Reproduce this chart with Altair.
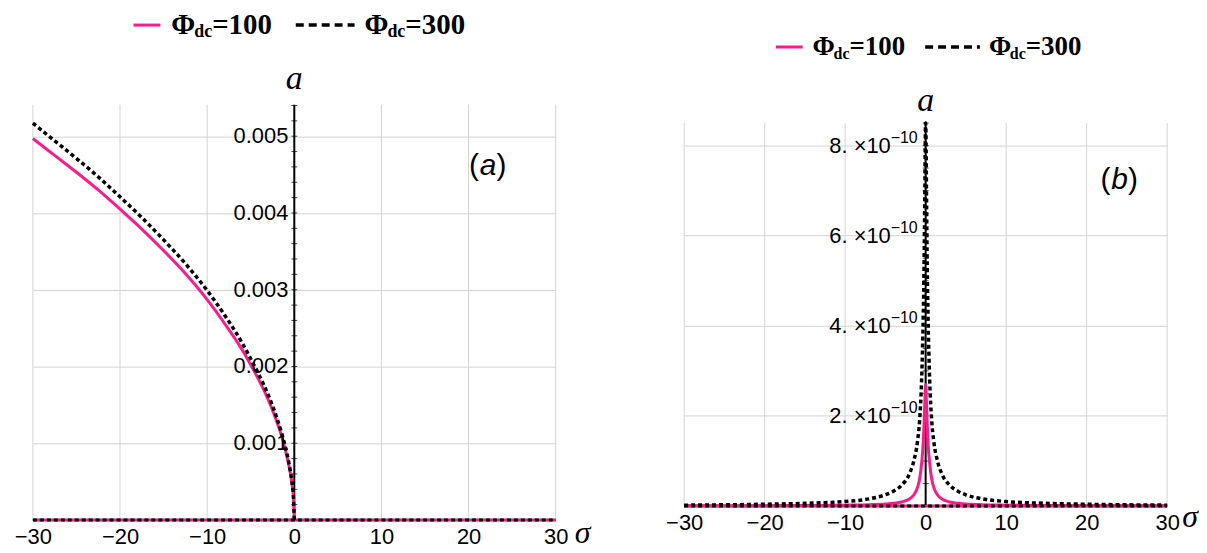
import altair as alt
import pandas as pd

# ---------------- data ----------------
SIGMA_A = [-30, -27.5, -25, -22.5, -20, -17.5, -15, -12.5, -10, -8, -6, -5, -4, -3,
           -2, -1.5, -1, -0.6, -0.3, -0.1, 0]
A_PHI100 = [0.00497, 0.00475, 0.00453, 0.00430, 0.00405, 0.00379, 0.00351, 0.00321,
            0.00287, 0.00256, 0.00222, 0.00202, 0.00181, 0.00157, 0.00128, 0.00111,
            0.00090, 0.00070, 0.00050, 0.00029, 0.0]
A_PHI300 = [0.00517, 0.00494, 0.00471, 0.00447, 0.00421, 0.00394, 0.00365, 0.00334,
            0.00299, 0.00267, 0.00231, 0.00210, 0.00188, 0.00163, 0.00133, 0.00115,
            0.00094, 0.00073, 0.00052, 0.00030, 0.0]
ZERO_SIGMA = [-30, 0, 30]
ZERO_A = [0.0, 0.0, 0.0]

SIGMA_B = [-30, -20, -15, -10, -7, -5, -4, -3, -2, -1.5, -1, -0.75, -0.5, -0.3, -0.2,
           -0.1, -0.05, 0, 0.05, 0.1, 0.2, 0.3, 0.5, 0.75, 1, 1.5, 2, 3, 4, 5, 7, 10,
           15, 20, 30]
# amplitudes in units of 1e-10
B_PHI100_E10 = [0.005, 0.008, 0.012, 0.02, 0.03, 0.045, 0.06, 0.09, 0.16, 0.24, 0.42,
                0.6, 0.95, 1.4, 1.8, 2.3, 2.55, 2.7, 2.55, 2.3, 1.8, 1.4, 0.95, 0.6,
                0.42, 0.24, 0.16, 0.09, 0.06, 0.045, 0.03, 0.02, 0.012, 0.008, 0.005]
B_PHI300_E10 = [0.02, 0.04, 0.06, 0.1, 0.16, 0.25, 0.33, 0.46, 0.72, 0.98, 1.45, 1.9,
                2.8, 4.2, 5.3, 7.0, 8.1, 8.5, 8.1, 7.0, 5.3, 4.2, 2.8, 1.9, 1.45, 0.98,
                0.72, 0.46, 0.33, 0.25, 0.16, 0.1, 0.06, 0.04, 0.02]

PHI_VALUES = [100, 300]
X_TICKS = [-30, -20, -10, 0, 10, 20, 30]
YA_TICKS = [0.001, 0.002, 0.003, 0.004, 0.005]
YA_LABELS = ["0.001", "0.002", "0.003", "0.004", "0.005"]
YB_TICKS_E10 = [2, 4, 6, 8]
YB_MANT = ["2.", "4.", "6.", "8."]
YB_EXP = "\u221210"

YTOP_A, YDOM_A = 0.00541, 0.00541        # frame top / scale top, panel (a)
YTOP_B, YDOM_B = 8.5e-10, 8.906e-10      # frame top / scale top, panel (b)

PINK = "#ff1a8c"
GRID = "#d4d4d4"
SANS = "Liberation Sans"
SERIF = "Liberation Serif"

WA, HA = 525, 417
WB, HB = 485, 403

B_PHI100 = [v * 1e-10 for v in B_PHI100_E10]
B_PHI300 = [v * 1e-10 for v in B_PHI300_E10]
YB_TICKS = [v * 1e-10 for v in YB_TICKS_E10]

one = alt.Data(values=[{}])


def txt(text, x, y, size, font=SANS, style="normal", weight="normal", align="left"):
    return alt.Chart(one).mark_text(text=text, font=font, fontStyle=style, fontWeight=weight,
                                    fontSize=size, align=align, baseline="middle",
                                    color="black").encode(x=alt.value(x), y=alt.value(y))


def make_panel(sig, y1, y2, ytop, ydom, yticks, w, h, tag, leg,
               ylabels=None, mant=None, minor_step=0.0002, n_minor=27):
    xax = alt.Axis(values=X_TICKS, grid=False, domain=False, ticks=False,
                   labelFontSize=22, labelFont=SANS, labelColor="black", labelPadding=7,
                   title=None, labelFlush=False, format="d")
    yax = alt.Axis(values=yticks, grid=True, gridColor=GRID, gridWidth=1,
                   labels=False, ticks=False, domain=False, title=None)
    xs = alt.Scale(domain=[-30, 30], nice=False, zero=False)
    ys = alt.Scale(domain=[0, ydom], nice=False, zero=False)

    def X(f):
        return alt.X(f, type="quantitative", scale=xs, axis=xax)

    def Y(f):
        return alt.Y(f, type="quantitative", scale=ys, axis=yax)

    df1 = pd.DataFrame({"s": sig, "a": y1})
    df2 = pd.DataFrame({"s": sig, "a": y2})
    dz = pd.DataFrame({"s": ZERO_SIGMA, "a": ZERO_A})
    dgrid = pd.DataFrame({"s": X_TICKS})

    layers = []
    # vertical grid lines
    layers.append(alt.Chart(dgrid).mark_rule(color=GRID, strokeWidth=1).encode(
        x=X("s"), y=alt.datum(0), y2=alt.datum(ytop)))
    # axis lines
    layers.append(alt.Chart(dz).mark_rule(color="black", strokeWidth=2.5).encode(
        x=alt.X("min(s):Q", scale=xs, axis=xax), x2="max(s):Q",
        y=alt.Y("min(a):Q", scale=ys, axis=yax)))
    layers.append(alt.Chart(one).mark_rule(color="black", strokeWidth=2).encode(
        x=alt.datum(0), y=alt.datum(0), y2=alt.datum(ytop)))
    # small ticks on the vertical axis
    minor = pd.DataFrame({"v": [round(minor_step * k, 14) for k in range(1, n_minor + 1)]})
    layers.append(alt.Chart(minor).mark_tick(orient="horizontal", size=6, thickness=1,
                                             color="black").encode(
        x=alt.datum(0), y=Y("v")))
    # curves
    layers.append(alt.Chart(df1).mark_line(color=PINK, strokeWidth=3,
                                           interpolate="monotone").encode(x=X("s"), y=Y("a")))
    layers.append(alt.Chart(dz).mark_line(color=PINK, strokeWidth=2.5).encode(x=X("s"), y=Y("a")))
    layers.append(alt.Chart(df2).mark_line(color="black", strokeWidth=3.5, strokeDash=[4, 3],
                                           interpolate="monotone").encode(x=X("s"), y=Y("a")))
    layers.append(alt.Chart(dz).mark_line(color="black", strokeWidth=3, strokeDash=[4, 3]).encode(
        x=X("s"), y=Y("a")))

    # y tick labels
    if ylabels is not None:
        dl = pd.DataFrame({"v": yticks, "lab": ylabels})
        layers.append(alt.Chart(dl).mark_text(align="right", baseline="middle", dx=-6,
                                              font=SANS, fontSize=22, color="black").encode(
            x=alt.datum(0), y=Y("v"), text="lab:N"))
    else:
        dl = pd.DataFrame({"v": yticks, "lab": [m + " \u00d710" for m in mant],
                           "ex": [YB_EXP] * len(yticks)})
        layers.append(alt.Chart(dl).mark_text(align="right", baseline="middle", dx=-35,
                                              font=SANS, fontSize=22, color="black").encode(
            x=alt.datum(0), y=Y("v"), text="lab:N"))
        layers.append(alt.Chart(dl).mark_text(align="right", baseline="middle", dx=-8, dy=-8,
                                              font=SANS, fontSize=16, color="black").encode(
            x=alt.datum(0), y=Y("v"), text="ex:N"))

    # axis titles
    layers.append(alt.Chart(one).mark_text(text="a", font=SERIF, fontStyle="italic",
                                           fontSize=34, align="center", baseline="middle",
                                           color="black").encode(
        x=alt.datum(0), y=alt.value(tag["a_y"])))
    layers.append(txt("\u03c3", tag["sig_x"], tag["sig_y"], 32, font=SERIF, style="italic",
                      align="center"))
    # panel tag "(x)" with italic letter
    tx, ty, tf = tag["x"], tag["y"], tag["fs"]
    layers.append(txt("(", tx, ty, tf))
    layers.append(txt(tag["letter"], tx + 0.36 * tf, ty, tf, style="italic"))
    layers.append(txt(")", tx + 0.92 * tf, ty, tf))

    # legend
    ly = leg["y"]
    fs, sfs = leg["fs"], leg["sfs"]
    layers.append(alt.Chart(one).mark_rule(color=PINK, strokeWidth=3).encode(
        x=alt.value(leg["l1"][0]), x2=alt.value(leg["l1"][1]), y=alt.value(ly)))
    layers.append(alt.Chart(one).mark_rule(color="black", strokeWidth=3.5, strokeDash=[8, 5]).encode(
        x=alt.value(leg["l2"][0]), x2=alt.value(leg["l2"][1]), y=alt.value(ly)))
    for px, val in zip(leg["t"], PHI_VALUES):
        layers.append(txt("\u03a6", px[0], ly, fs, font=SERIF, weight="bold"))
        layers.append(txt("dc", px[1], ly + 7, sfs, font=SERIF, weight="bold"))
        layers.append(txt("=" + str(val), px[2], ly, fs, font=SERIF, weight="bold"))

    return alt.layer(*layers).properties(width=w, height=h)


panel_a = make_panel(
    SIGMA_A, A_PHI100, A_PHI300, YTOP_A, YDOM_A, YA_TICKS, WA, HA,
    tag={"letter": "a", "x": 438, "y": 62, "fs": 30, "a_y": -26, "sig_x": 552, "sig_y": 430},
    leg={"y": -80, "fs": 29, "sfs": 18, "l1": (101, 128), "l2": (264, 323),
         "t": [(139, 162, 180), (333, 356, 374)]},
    ylabels=YA_LABELS, minor_step=0.0002, n_minor=27)

panel_b = make_panel(
    SIGMA_B, B_PHI100, B_PHI300, YTOP_B, YDOM_B, YB_TICKS, WB, HB,
    tag={"letter": "b", "x": 418, "y": 76, "fs": 30, "a_y": -4, "sig_x": 508, "sig_y": 414},
    leg={"y": -58, "fs": 27, "sfs": 16, "l1": (92, 119), "l2": (242, 297),
         "t": [(129, 150, 166), (306, 327, 343)]},
    mant=YB_MANT, minor_step=0.5e-10, n_minor=17)

chart = alt.hconcat(panel_a, panel_b, spacing=73).properties(
    padding={"left": 5, "top": 1, "right": 0, "bottom": 0},
    background="white",
).configure_view(stroke="transparent")

chart.save("out.html", embed_options={"renderer": "svg", "actions": False})
